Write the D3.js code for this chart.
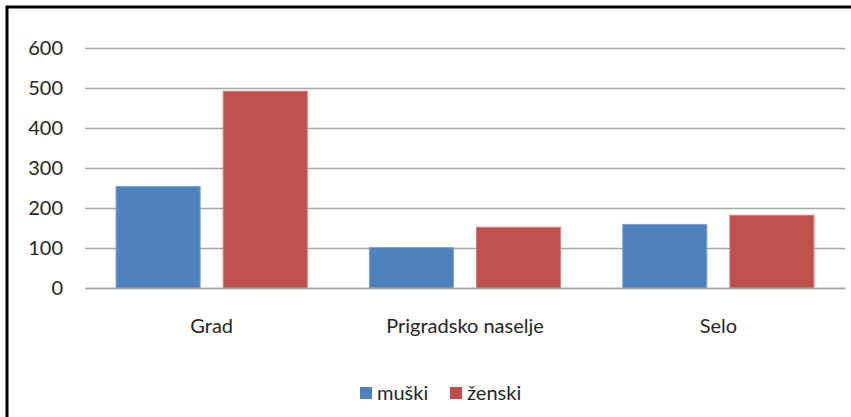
<!DOCTYPE html>
<html>
<head>
<meta charset="utf-8">
<script src="https://d3js.org/d3.v7.min.js"></script>
<style>
  body { margin: 0; background: #fff; }
  text { font-family: Lato, "Open Sans", sans-serif; fill: #262626; }
</style>
</head>
<body>
<svg width="851" height="417"></svg>

<script>

  // Data
  const categories = ['Grad', 'Prigradsko naselje', 'Selo'];
  const series = ['muški', 'ženski'];
  const muski = [254, 101, 159];
  const zenski = [492, 152, 182];
  const yTicks = [0, 100, 200, 300, 400, 500, 600];
  const colors = ['#4F81BD', '#C0504D'];
  const edges = ['#7FA3D0', '#D6807E'];

  const svg = d3.select('svg');

  // Frame (only top and left edge show in the picture)
  svg.append('rect')
    .attr('x', 7)
    .attr('y', 7)
    .attr('width', 900)
    .attr('height', 500)
    .attr('fill', 'none')
    .attr('stroke', 'black')
    .attr('stroke-width', 3);

  // Scales
  const x0 = d3.scaleBand()
    .domain(categories)
    .range([85, 845])
    .padding(0);

  const x1 = d3.scaleBand()
    .domain(series)
    .range([0, x0.bandwidth()])
    .paddingInner(0.215)
    .paddingOuter(0.29);

  const y = d3.scaleLinear()
    .domain([0, 600])
    .range([288, 48]);

  // Gridlines + y labels
  const yAxis = svg.append('g')
    .attr('transform', 'translate(85,0)')
    .call(d3.axisLeft(y)
      .tickValues(yTicks)
      .tickSize(-760)
      .tickPadding(22));

  yAxis.select('.domain').remove();
  yAxis.selectAll('.tick line')
    .attr('stroke', '#a8a8a8')
    .attr('stroke-width', 1.6);
  yAxis.selectAll('.tick text')
    .style('font-size', '20px')
    .attr('fill', '#262626')
    .attr('font-family', 'Lato, sans-serif');

  // Bars
  const groups = svg.selectAll('g.cat')
    .data(categories)
    .join('g')
    .attr('class', 'cat')
    .attr('transform', d => 'translate(' + x0(d) + ',0)');

  groups.selectAll('rect')
    .data((d, i) => [
      { s: series[0], v: muski[i], k: 0 },
      { s: series[1], v: zenski[i], k: 1 }
    ])
    .join('rect')
    .attr('x', d => x1(d.s))
    .attr('y', d => y(d.v))
    .attr('width', x1.bandwidth())
    .attr('height', d => y(0) - y(d.v))
    .attr('fill', d => colors[d.k])
    .attr('stroke', d => edges[d.k])
    .attr('stroke-width', 1);

  // Category labels
  const xAxis = svg.append('g')
    .attr('transform', 'translate(0,288)')
    .call(d3.axisBottom(x0).tickSize(0).tickPadding(31));

  xAxis.select('.domain')
    .attr('stroke', '#a8a8a8')
    .attr('stroke-width', 1.6);
  xAxis.selectAll('.tick text')
    .style('font-size', '20px')
    .attr('fill', '#262626')
    .attr('font-family', 'Lato, sans-serif');

  // Legend
  const legendX = [360, 450];
  const legend = svg.selectAll('g.leg')
    .data(series)
    .join('g')
    .attr('class', 'leg')
    .attr('transform', (d, i) => 'translate(' + legendX[i] + ',387)');

  legend.append('rect')
    .attr('width', 12)
    .attr('height', 12)
    .attr('fill', (d, i) => colors[i]);

  legend.append('text')
    .attr('x', 17)
    .attr('y', 6)
    .attr('dy', '0.35em')
    .style('font-size', '20px')
    .text(d => d);

</script>
</body>
</html>
